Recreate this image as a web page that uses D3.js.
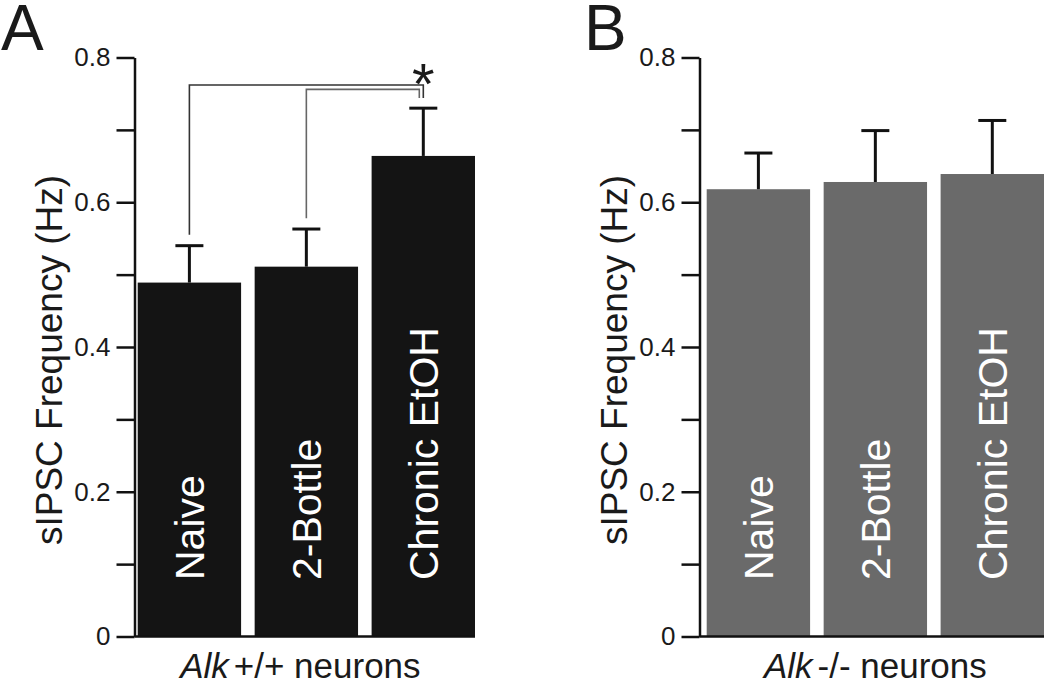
<!DOCTYPE html>
<html>
<head>
<meta charset="utf-8">
<script src="https://cdn.jsdelivr.net/npm/d3@7"></script>
<style>
  body { margin: 0; background: #fff; }
  text { font-family: "Liberation Sans", Arial, sans-serif; fill: #1a1a1a; }
</style>
</head>
<body>
<script>
let width = 1050,
    height = 684;

// data
const groups = ["Naive", "2-Bottle", "Chronic EtOH"];
const wildMeans = [0.489, 0.511, 0.664];
const wildErrTop = [0.540, 0.563, 0.730];
const knockMeans = [0.618, 0.628, 0.639];
const knockErrTop = [0.668, 0.699, 0.713];
const tickVals = [0, 0.1, 0.2, 0.3, 0.4, 0.5, 0.6, 0.7, 0.8];
const tickLabels = ["0", "", "0.2", "", "0.4", "", "0.6", "", "0.8"];
// significance brackets: [from group, start y, top y, end y, x nudge]
const brackets = [
    ["Naive", 0.555, 0.762, 0.744, 0],
    ["2-Bottle", 0.578, 0.756, 0.744, -4]
];

const svg = d3.select("body").append("svg")
    .attr("width", width)
    .attr("height", height);

const y = d3.scaleLinear()
    .domain([0, 0.8])
    .range([636.5, 57.5]);

function panel(opts) {
    const x = d3.scaleBand()
        .domain(groups)
        .range(opts.range)
        .paddingInner(0.116)
        .paddingOuter(0);

    const g = svg.append("g");

    // bars
    g.selectAll("rect.bar")
        .data(groups)
        .enter().append("rect")
        .attr("class", "bar")
        .attr("x", d => x(d))
        .attr("width", x.bandwidth())
        .attr("y", (d, i) => y(opts.means[i]))
        .attr("height", (d, i) => y(0) - y(opts.means[i]))
        .style("fill", opts.fill);

    // error bars
    const err = g.selectAll("g.err")
        .data(groups)
        .enter().append("g")
        .attr("class", "err")
        .style("stroke", "#111")
        .style("stroke-width", 3);
    err.append("line")
        .attr("x1", d => x(d) + x.bandwidth() / 2)
        .attr("x2", d => x(d) + x.bandwidth() / 2)
        .attr("y1", (d, i) => y(opts.means[i]))
        .attr("y2", (d, i) => y(opts.errTop[i]));
    err.append("line")
        .attr("x1", d => x(d) + x.bandwidth() / 2 - 14)
        .attr("x2", d => x(d) + x.bandwidth() / 2 + 14)
        .attr("y1", (d, i) => y(opts.errTop[i]))
        .attr("y2", (d, i) => y(opts.errTop[i]));

    // labels inside bars
    g.selectAll("text.inbar")
        .data(groups)
        .enter().append("text")
        .attr("class", "inbar")
        .attr("transform", d => "translate(" + (x(d) + x.bandwidth() / 2 + 15) + ",580) rotate(-90)")
        .style("fill", "#fff")
        .style("font-size", "41px")
        .text(d => d);

    // y axis
    const axis = d3.axisLeft(y)
        .tickValues(tickVals)
        .tickSize(18)
        .tickSizeOuter(0)
        .tickPadding(6)
        .tickFormat((d, i) => tickLabels[i]);
    const ax = g.append("g")
        .attr("transform", "translate(" + opts.axisX + ",0)")
        .call(axis);
    ax.select(".domain").style("stroke", "#111").style("stroke-width", 2.5);
    ax.selectAll(".tick line").style("stroke", "#111").style("stroke-width", 2.5);
    ax.selectAll(".tick text")
        .style("font-size", "26px")
        .style("font-family", "Liberation Sans, Arial, sans-serif")
        .style("fill", "#1a1a1a");

    // baseline
    g.append("line")
        .attr("x1", opts.axisX)
        .attr("x2", opts.range[1])
        .attr("y1", y(0))
        .attr("y2", y(0))
        .style("stroke", "#111")
        .style("stroke-width", 2.5);

    // y title
    g.append("text")
        .attr("transform", "translate(" + (opts.axisX - 73) + "," + 360 + ") rotate(-90)")
        .attr("text-anchor", "middle")
        .style("font-size", "37px")
        .text("sIPSC Frequency (Hz)");

    // x title
    const xt = g.append("text")
        .attr("x", (opts.range[0] + opts.range[1]) / 2 + opts.titleNudge)
        .attr("y", 678)
        .attr("text-anchor", "middle")
        .style("font-size", "35px");
    xt.append("tspan").style("font-style", "italic").text("Alk");
    xt.append("tspan").attr("dx", 5).text(opts.genotype + " neurons");

    // panel letter
    g.append("text")
        .attr("x", opts.letterX)
        .attr("y", 50)
        .style("font-size", "64px")
        .text(opts.letter);

    return x;
}

const xA = panel({
    range: [137.7, 475], axisX: 134.5, means: wildMeans, errTop: wildErrTop,
    fill: "#141414", genotype: "+/+", letter: "A", letterX: 1, titleNudge: -6
});
panel({
    range: [706.7, 1044], axisX: 699.5, means: knockMeans, errTop: knockErrTop,
    fill: "#6a6a6a", genotype: "-/-", letter: "B", letterX: 584, titleNudge: 0
});

// significance brackets in panel A
const target = xA("Chronic EtOH") + xA.bandwidth() / 2;
svg.selectAll("path.bracket")
    .data(brackets)
    .enter().append("path")
    .attr("class", "bracket")
    .attr("d", d => {
        const x0 = xA(d[0]) + xA.bandwidth() / 2;
        return d3.line()([[x0, y(d[1])], [x0, y(d[2])], [target + d[4], y(d[2])], [target + d[4], y(d[3])]]);
    })
    .style("fill", "none")
    .style("stroke", (d, i) => i === 0 ? "#333" : "#666")
    .style("stroke-width", 1.6);

svg.append("text")
    .attr("x", target)
    .attr("y", 104)
    .attr("text-anchor", "middle")
    .style("font-size", "58px")
    .text("*");
</script>
</body>
</html>
